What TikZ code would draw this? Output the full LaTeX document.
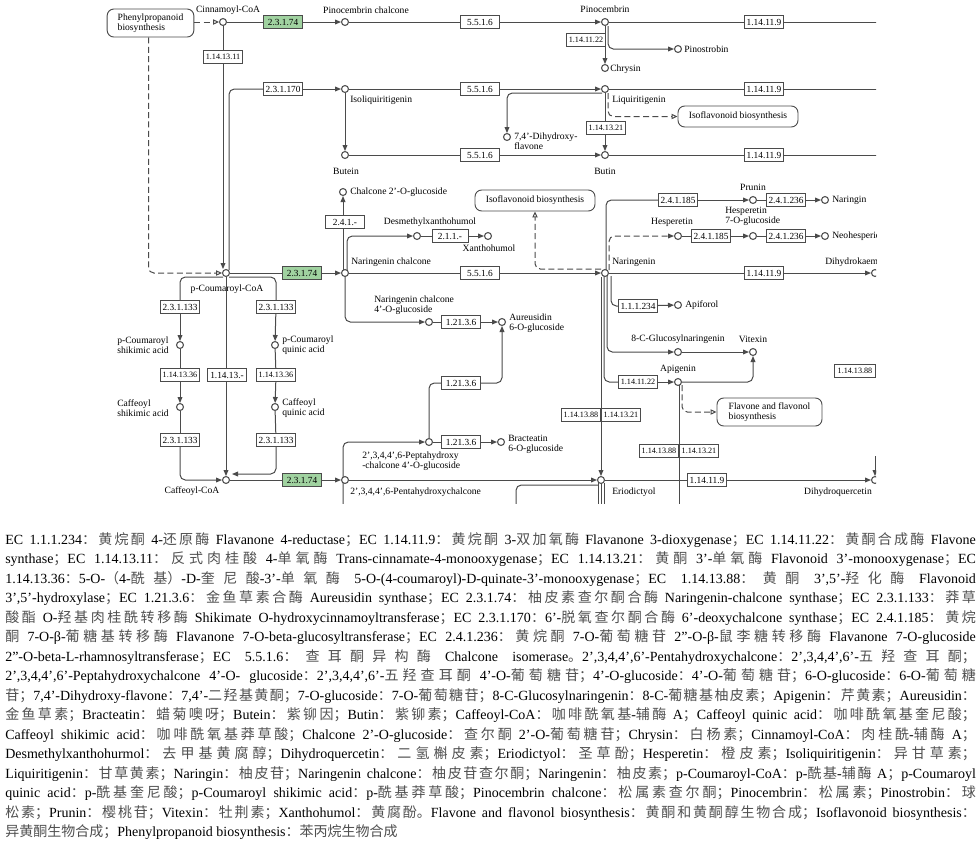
\documentclass[tikz,border=0pt]{standalone}
\usepackage{fontspec}
\setmainfont{Liberation Serif}
\newfontfamily\cjk{Noto Sans CJK SC}
\usetikzlibrary{arrows.meta,calc}
\pgfdeclarelayer{bg}
\pgfsetlayers{bg,main}
\definecolor{kgreen}{RGB}{160,210,160}
\definecolor{kline}{RGB}{75,75,75}
\definecolor{zhcol}{RGB}{80,80,80}
\XeTeXlinebreaklocale "zh"
\XeTeXlinebreakskip=0pt plus 1pt
\newcommand\z[1]{{\cjk\color{zhcol}#1}}
\newcommand\jline[1]{\parbox{728pt}{\fontsize{10.5}{12}\selectfont\parfillskip=0pt\tolerance=10000\hyphenpenalty=10000\exhyphenpenalty=10000\relax #1}}
\newcommand\lline[1]{{\fontsize{10.5}{12}\selectfont #1}}
\begin{document}
\begin{tikzpicture}[x=0.75pt,y=-0.75pt,
 cpd/.style={circle,draw=kline,fill=white,line width=0.8pt,inner sep=0pt,minimum size=5.2pt},
 enz/.style={draw=kline,fill=white,line width=0.7pt,inner sep=0pt,minimum width=29pt,minimum height=9.8pt,font=\fontsize{7}{7}\selectfont},
 enzs/.style={enz,font=\fontsize{6.1}{7}\selectfont},
 genz/.style={enz,fill=kgreen},
 mapbox/.style={draw=kline,rounded corners=5pt,line width=0.7pt,fill=white,inner sep=0pt,font=\fontsize{7.2}{7.5}\selectfont},
 lbl/.style={inner sep=0pt,font=\fontsize{7.2}{7.5}\selectfont},
 rx/.style={draw=kline,line width=0.75pt},
 ar/.style={rx,-{Triangle[length=4.5pt,width=3.6pt]}},
 dshf/.style={ar,dash pattern=on 4.5pt off 2.5pt},
 dsh/.style={rx,dash pattern=on 4.5pt off 2.5pt,-{Triangle[open,length=4.5pt,width=4pt]}},
 rc/.style={rounded corners=4pt}
]
\useasboundingbox (0,0) rectangle (979,844);
\begin{scope}
\clip (0,0) rectangle (876,503);
% map links
\node[mapbox,minimum width=65pt,minimum height=21pt,align=left] (mphe) at (150.5,23) {Phenylpropanoid\\biosynthesis};
\node[mapbox,minimum width=90pt,minimum height=15.75pt] (miso1) at (738,116.5) {Isoflavonoid biosynthesis};
\node[mapbox,minimum width=90pt,minimum height=15.75pt] (miso2) at (535,200.5) {Isoflavonoid biosynthesis};
\node[mapbox,minimum width=78.75pt,minimum height=21pt,align=left] (mfla) at (769.5,412) {Flavone and flavonol\\biosynthesis};
% compounds
\node[cpd] (cin) at (223,22) {};
\node[cpd] (pcc) at (345,22) {};
\node[cpd] (pin) at (605,22) {};
\node[cpd] (chr) at (605,68) {};
\node[cpd] (pst) at (678,49) {};
\node[cpd] (iso) at (345,89) {};
\node[cpd] (liq) at (605,89) {};
\node[cpd] (dhf) at (507,137) {};
\node[cpd] (bte) at (345,155) {};
\node[cpd] (btn) at (605,155) {};
\node[cpd] (c2g) at (343,192) {};
\node[cpd] (pru) at (753,200) {};
\node[cpd] (ngn) at (825,200) {};
\node[cpd] (dxh) at (417,236) {};
\node[cpd] (xan) at (488,236) {};
\node[cpd] (hes) at (678,236) {};
\node[cpd] (h7g) at (753,236) {};
\node[cpd] (neo) at (825,236) {};
\node[cpd] (pcoa) at (226,273) {};
\node[cpd] (ncl) at (345,273) {};
\node[cpd] (nar) at (605,273) {};
\node[cpd] (dhk) at (875,273) {};
\node[cpd] (apf) at (678,305) {};
\node[cpd] (nc4) at (429,322) {};
\node[cpd] (aur) at (502,322) {};
\node[cpd] (psk) at (180,345) {};
\node[cpd] (pqa) at (275,345) {};
\node[cpd] (cgn) at (678,352) {};
\node[cpd] (vit) at (753,352) {};
\node[cpd] (api) at (678,382) {};
\node[cpd] (csk) at (180,407) {};
\node[cpd] (cqa) at (275,407) {};
\node[cpd] (p4g) at (429,442) {};
\node[cpd] (brc) at (501,442) {};
\node[cpd] (caf) at (226,480) {};
\node[cpd] (phc) at (345,480) {};
\node[cpd] (eri) at (601,480) {};
\node[cpd] (dhq) at (875,480) {};
% enzymes
\node[genz] (e1) at (283,22) {2.3.1.74};
\node[enz] (e2) at (480,22) {5.5.1.6};
\node[enz] (e3) at (764,22) {1.14.11.9};
\node[enzs] (e4) at (586,40) {1.14.11.22};
\node[enzs] (e5) at (223,57) {1.14.13.11};
\node[enz] (e6) at (283,89) {2.3.1.170};
\node[enz] (e7) at (480,89) {5.5.1.6};
\node[enz] (e8) at (764,89) {1.14.11.9};
\node[enzs] (e9) at (606,128) {1.14.13.21};
\node[enz] (e10) at (480,155) {5.5.1.6};
\node[enz] (e11) at (764,155) {1.14.11.9};
\node[enz] (e12) at (345,222) {2.4.1.-};
\node[enz,minimum width=27pt] (e13) at (450,236) {2.1.1.-};
\node[enz] (e14) at (678,200) {2.4.1.185};
\node[enz] (e15) at (786,200) {2.4.1.236};
\node[enz] (e16) at (711,236) {2.4.1.185};
\node[enz] (e17) at (786,236) {2.4.1.236};
\node[genz] (e18) at (302,273) {2.3.1.74};
\node[enz] (e19) at (480,273) {5.5.1.6};
\node[enz] (e20) at (764,273) {1.14.11.9};
\node[enz] (e21) at (638,306) {1.1.1.234};
\node[enz] (e22) at (461,322) {1.21.3.6};
\node[enz] (e24) at (180,307) {2.3.1.133};
\node[enz] (e25) at (276,307) {2.3.1.133};
\node[enzs] (e26) at (180,375) {1.14.13.36};
\node[enz] (e27) at (227,375) {1.14.13.-};
\node[enzs] (e28) at (276,375) {1.14.13.36};
\node[enzs] (e23) at (638,382) {1.14.11.22};
\node[enz] (e31) at (461,383) {1.21.3.6};
\node[enzs] (e34) at (581,415) {1.14.13.88};
\node[enzs] (e35) at (621,415) {1.14.13.21};
\node[enz] (e29) at (180,440) {2.3.1.133};
\node[enz] (e30) at (276,440) {2.3.1.133};
\node[enz] (e32) at (461,442) {1.21.3.6};
\node[enzs] (e36) at (659,451) {1.14.13.88};
\node[enzs] (e37) at (699,451) {1.14.13.21};
\node[enzs,minimum width=31pt] (e38) at (855,371) {1.14.13.88};
\node[genz] (e33) at (302,480) {2.3.1.74};
\node[enz] (e39) at (707,480) {1.14.11.9};
% compound labels
\node[lbl] (lcin) at (228,10) {Cinnamoyl-CoA};
\node[lbl] (lpcc) at (366,10) {Pinocembrin chalcone};
\node[lbl] (lpin) at (605,9) {Pinocembrin};
\node[lbl,anchor=west] (lchr) at (610,69) {Chrysin};
\node[lbl,anchor=west] (lpst) at (684,49) {Pinostrobin};
\node[lbl,anchor=west] (liso) at (350,100) {Isoliquiritigenin};
\node[lbl] (lbte) at (346,171) {Butein};
\node[lbl,anchor=west] (lliq) at (612,100) {Liquiritigenin};
\node[lbl,anchor=west,align=left] (ldhf) at (514,141) {7,4’-Dihydroxy-\\flavone};
\node[lbl] (lbtn) at (605,171) {Butin};
\node[lbl,anchor=west] (lc2g) at (350,192) {Chalcone 2’-O-glucoside};
\node[lbl] (ldxh) at (430,222) {Desmethylxanthohumol};
\node[lbl] (lxan) at (489,248) {Xanthohumol};
\node[lbl] (lpcoa) at (227,289) {p-Coumaroyl-CoA};
\node[lbl,anchor=west] (lncl) at (351,262) {Naringenin chalcone};
\node[lbl,anchor=west] (lnar) at (612,262) {Naringenin};
\node[lbl,anchor=west] (ldhk) at (825,262) {Dihydrokaempferol};
\node[lbl,anchor=west,align=left] (lnc4) at (374,305) {Naringenin chalcone\\4’-O-glucoside};
\node[lbl,anchor=west,align=left] (laur) at (509,323) {Aureusidin\\6-O-glucoside};
\node[lbl,anchor=west] (lapf) at (685,305) {Apiforol};
\node[lbl] (lpru) at (753,187) {Prunin};
\node[lbl,anchor=west] (lngn) at (832,200) {Naringin};
\node[lbl] (lhes) at (672,222) {Hesperetin};
\node[lbl,anchor=west,align=left] (lh7g) at (725,216) {Hesperetin\\7-O-glucoside};
\node[lbl,anchor=west] (lneo) at (832,236) {Neohesperidin};
\node[lbl] (lcgn) at (678,339) {8-C-Glucosylnaringenin};
\node[lbl] (lvit) at (753,339) {Vitexin};
\node[lbl] (lapi) at (678,369) {Apigenin};
\node[lbl,anchor=west,align=left] (lpsk) at (117,345) {p-Coumaroyl\\shikimic acid};
\node[lbl,anchor=west,align=left] (lpqa) at (282,345) {p-Coumaroyl\\quinic acid};
\node[lbl,anchor=west,align=left] (lcsk) at (117,408) {Caffeoyl\\shikimic acid};
\node[lbl,anchor=west,align=left] (lcqa) at (282,408) {Caffeoyl\\quinic acid};
\node[lbl] (lcaf) at (192,491) {Caffeoyl-CoA};
\node[lbl,anchor=west] (lphc) at (350,492) {2’,3,4,4’,6-Pentahydroxychalcone};
\node[lbl,anchor=west,align=left] (lp4g) at (362,461) {2’,3,4,4’,6-Peptahydroxy\\-chalcone 4’-O-glucoside};
\node[lbl,anchor=west,align=left] (lbrc) at (508,444) {Bracteatin\\6-O-glucoside};
\node[lbl,anchor=west] (leri) at (612,492) {Eriodictyol};
\node[lbl] (ldhq) at (838,492) {Dihydroquercetin};
% free ends
\coordinate (r1) at (882,22);
\coordinate (r2) at (882,89);
\coordinate (r3) at (882,155);
\coordinate (dqt) at (875,456);
\coordinate (apb) at (679,506);
\coordinate (eriL) at (516,506);
\coordinate (phcb) at (343,506);
\coordinate (cafne) at (232,474);
\coordinate (eb1) at (598,506);
\coordinate (eb2) at (601,506);
\coordinate (eb3) at (604,506);
\end{scope}
\begin{pgfonlayer}{bg}
\fill[white] (0,0) rectangle (979,844);
\begin{scope}
\clip (0,0) rectangle (876,503);
% row 1
\draw[dsh] (mphe.east |- cin) -- (cin.west);
\draw[rx] (cin) -- (e1);
\draw[ar] (e1) -- (pcc);
\draw[rx] (pcc) -- (e2);
\draw[ar] (e2) -- (pin);
\draw[rx] (pin) -- (e3) -- (r1);
\draw[ar] (pin) -- (chr);
\draw[ar,rc] ($(pin)+(3,4)$) |- (pst);
\draw[ar] (cin) -- (cin |- pcoa.north);
% row 2
\draw[rx,rc] ($(pcoa)+(3,-3)$) |- (e6);
\draw[ar] (e6) -- (iso);
\draw[rx] (iso) -- (e7);
\draw[ar] (e7) -- (liq);
\draw[rx] (liq) -- (e8) -- (r2);
\draw[ar] (iso) -- (bte);
\draw[ar,rc] ($(liq)+(-3,4)$) -| (dhf);
\draw[ar] (liq) -- (btn);
\draw[dsh,rc] ($(liq)+(3,4)$) |- (miso1);
% row 3
\draw[rx] (bte) -- (e10);
\draw[ar] (e10) -- (btn);
\draw[rx] (btn) -- (e11) -- (r3);
% naringenin chalcone branches
\draw[ar] ($(ncl)+(-2,-3)$) -- (c2g);
\draw[ar,rc] ($(ncl)+(2,-3)$) |- (dxh);
\draw[rx] (dxh) -- (e13);
\draw[ar] (e13) -- (xan);
% row 4
\draw[dsh,rc] ($(mphe.south)+(-2,0)$) |- (pcoa);
\draw[rx] (pcoa) -- (e18);
\draw[ar] (e18) -- (ncl);
\draw[rx] (ncl) -- (e19);
\draw[ar] (e19) -- (nar);
\draw[rx] (nar) -- (e20);
\draw[ar] (e20) -- (dhk);
\draw[ar,rc] ($(ncl)+(0,3)$) |- (nc4);
\draw[rx] (nc4) -- (e22);
\draw[ar] (e22) -- (aur);
% naringenin upward
\draw[rx,rc] ($(nar)+(1,-3)$) |- (e14);
\draw[ar] (e14) -- (pru);
\draw[rx] (pru) -- (e15);
\draw[ar] (e15) -- (ngn);
\draw[dshf,rc] ($(nar)+(4,-3)$) |- (hes);
\draw[rx] (hes) -- (e16);
\draw[ar] (e16) -- (h7g);
\draw[rx] (h7g) -- (e17);
\draw[ar] (e17) -- (neo);
\draw[dsh,rc] ($(nar)+(-4,-4)$) -| (miso2);
% naringenin downward
\draw[ar] (nar.south -| eri) -- (eri);
\draw[rx,rc] ($(nar)+(-1,3)$) |- (e23);
\draw[ar] (e23) -- (api);
\draw[ar,rc] ($(nar)+(2,3)$) |- (cgn);
\draw[ar] (cgn) -- (vit);
\draw[rx,rc] ($(nar)+(6,3)$) |- (e21);
\draw[ar] (e21) -- (apf);
\draw[ar,rc] (api) -| (vit);
\draw[dsh,rc] ($(api)+(4,3)$) |- (mfla);
\draw[rx] ($(api)+(1,3)$) -- (apb);
% p-coumaroyl-CoA to caffeoyl-CoA
\draw[rx,rc] ($(pcoa)+(-3,4)$) -| (e24);
\draw[ar] (e24) -- (psk);
\draw[rx] (psk) -- (e26);
\draw[ar] (e26) -- (csk);
\draw[rx] (csk) -- (e29);
\draw[ar,rc] (e29) |- (caf);
\draw[rx,rc] ($(pcoa)+(3,4)$) -| (e25);
\draw[ar] (e25) -- (pqa);
\draw[rx] (pqa) -- (e28);
\draw[ar] (e28) -- (cqa);
\draw[rx] (cqa) -- (e30);
\draw[ar,rc] (e30) |- (cafne);
\draw[ar] (pcoa) -- (caf);
% bottom row
\draw[rx] (caf) -- (e33);
\draw[ar] (e33) -- (phc);
\draw[ar] (phc) -- (eri);
\draw[ar,rc] (phcb) |- (p4g);
\draw[rx] (p4g) -- (e32);
\draw[ar] (e32) -- (brc);
\draw[rx,rc] (p4g) |- (e31);
\draw[ar,rc] (e31) -| (aur);
\draw[rx] (eri) -- (e39);
\draw[ar] (e39) -- (dhq);
\draw[ar] (dqt) -- (dhq);
\draw[rx] ($(eri)+(-3,3)$) -- (eb1);
\draw[rx] ($(eri)+(0,3)$) -- (eb2);
\draw[rx] ($(eri)+(3,3)$) -- (eb3);
\draw[rx,rc] ($(eri)+(-3,5)$) -| (eriL);
\end{scope}
\end{pgfonlayer}
% legend text
\node[anchor=west,inner sep=0pt] (t1) at (5,540) {\jline{EC 1.1.1.234\z{：黄烷酮} 4-\z{还原酶} Flavanone 4-reductase\z{；}EC 1.14.11.9\z{：黄烷酮} 3-\z{双加氧酶} Flavanone 3-dioxygenase\z{；}EC 1.14.11.22\z{：黄酮合成酶} Flavone}};
\node[anchor=west,inner sep=0pt] (t2) at (5,559.5) {\jline{synthase\z{；}EC 1.14.13.11\z{：反式肉桂酸} 4-\z{单氧酶} Trans-cinnamate-4-monooxygenase\z{；}EC 1.14.13.21\z{：黄酮} 3’-\z{单氧酶} Flavonoid 3’-monooxygenase\z{；}EC}};
\node[anchor=west,inner sep=0pt] (t3) at (5,579) {\jline{1.14.13.36\z{：}5-O-\z{（}4-\z{酰基）}-D-\z{奎尼酸}-3’-\z{单氧酶} 5-O-(4-coumaroyl)-D-quinate-3’-monooxygenase\z{；}EC 1.14.13.88\z{：黄酮} 3’,5’-\z{羟化酶} Flavonoid}};
\node[anchor=west,inner sep=0pt] (t4) at (5,598.5) {\jline{3’,5’-hydroxylase\z{；}EC 1.21.3.6\z{：金鱼草素合酶} Aureusidin synthase\z{；}EC 2.3.1.74\z{：柚皮素查尔酮合酶} Naringenin-chalcone synthase\z{；}EC 2.3.1.133\z{：莽草}}};
\node[anchor=west,inner sep=0pt] (t5) at (5,618) {\jline{\z{酸酯} O-\z{羟基肉桂酰转移酶} Shikimate O-hydroxycinnamoyltransferase\z{；}EC 2.3.1.170\z{：}6’-\z{脱氧查尔酮合酶} 6’-deoxychalcone synthase\z{；}EC 2.4.1.185\z{：黄烷}}};
\node[anchor=west,inner sep=0pt] (t6) at (5,637.5) {\jline{\z{酮} 7-O-β-\z{葡糖基转移酶} Flavanone 7-O-beta-glucosyltransferase\z{；}EC 2.4.1.236\z{：黄烷酮} 7-O-\z{葡萄糖苷} 2"-O-β-\z{鼠李糖转移酶} Flavanone 7-O-glucoside}};
\node[anchor=west,inner sep=0pt] (t7) at (5,657) {\jline{2"-O-beta-L-rhamnosyltransferase\z{；}EC 5.5.1.6\z{：查耳酮异构酶} Chalcone isomerase\z{。}2’,3,4,4’,6’-Pentahydroxychalcone\z{：}2’,3,4,4’,6’-\z{五羟查耳酮；}}};
\node[anchor=west,inner sep=0pt] (t8) at (5,676.5) {\jline{2’,3,4,4’,6’-Peptahydroxychalcone 4’-O- glucoside\z{：}2’,3,4,4’,6’-\z{五羟查耳酮} 4’-O-\z{葡萄糖苷；}4’-O-glucoside\z{：}4’-O-\z{葡萄糖苷；}6-O-glucoside\z{：}6-O-\z{葡萄糖}}};
\node[anchor=west,inner sep=0pt] (t9) at (5,696) {\jline{\z{苷；}7,4’-Dihydroxy-flavone\z{：}7,4’-\z{二羟基黄酮；}7-O-glucoside\z{：}7-O-\z{葡萄糖苷；}8-C-Glucosylnaringenin\z{：}8-C-\z{葡糖基柚皮素；}Apigenin\z{：芹黄素；}Aureusidin\z{：}}};
\node[anchor=west,inner sep=0pt] (t10) at (5,715.5) {\jline{\z{金鱼草素；}Bracteatin\z{：蜡菊噢呀；}Butein\z{：紫铆因；}Butin\z{：紫铆素；}Caffeoyl-CoA\z{：咖啡酰氧基}-\z{辅酶} A\z{；}Caffeoyl quinic acid\z{：咖啡酰氧基奎尼酸；}}};
\node[anchor=west,inner sep=0pt] (t11) at (5,735) {\jline{Caffeoyl shikimic acid\z{：咖啡酰氧基莽草酸；}Chalcone 2’-O-glucoside\z{：查尔酮} 2’-O-\z{葡萄糖苷；}Chrysin\z{：白杨素；}Cinnamoyl-CoA\z{：肉桂酰}-\z{辅酶} A\z{；}}};
\node[anchor=west,inner sep=0pt] (t12) at (5,754.5) {\jline{Desmethylxanthohurmol\z{：去甲基黄腐醇；}Dihydroquercetin\z{：二氢槲皮素；}Eriodictyol\z{：圣草酚；}Hesperetin\z{：橙皮素；}Isoliquiritigenin\z{：异甘草素；}}};
\node[anchor=west,inner sep=0pt] (t13) at (5,774) {\jline{Liquiritigenin\z{：甘草黄素；}Naringin\z{：柚皮苷；}Naringenin chalcone\z{：柚皮苷查尔酮；}Naringenin\z{：柚皮素；}p-Coumaroyl-CoA\z{：}p-\z{酰基}-\z{辅酶} A\z{；}p-Coumaroyl}};
\node[anchor=west,inner sep=0pt] (t14) at (5,793.5) {\jline{quinic acid\z{：}p-\z{酰基奎尼酸；}p-Coumaroyl shikimic acid\z{：}p-\z{酰基莽草酸；}Pinocembrin chalcone\z{：松属素查尔酮；}Pinocembrin\z{：松属素；}Pinostrobin\z{：球}}};
\node[anchor=west,inner sep=0pt] (t15) at (5,813) {\jline{\z{松素；}Prunin\z{：樱桃苷；}Vitexin\z{：牡荆素；}Xanthohumol\z{：黄腐酚。}Flavone and flavonol biosynthesis\z{：黄酮和黄酮醇生物合成；}Isoflavonoid biosynthesis\z{：}}};
\node[anchor=west,inner sep=0pt] (t16) at (5,832.5) {\lline{\z{异黄酮生物合成；}Phenylpropanoid biosynthesis\z{：苯丙烷生物合成}}};
\end{tikzpicture}
\end{document}
